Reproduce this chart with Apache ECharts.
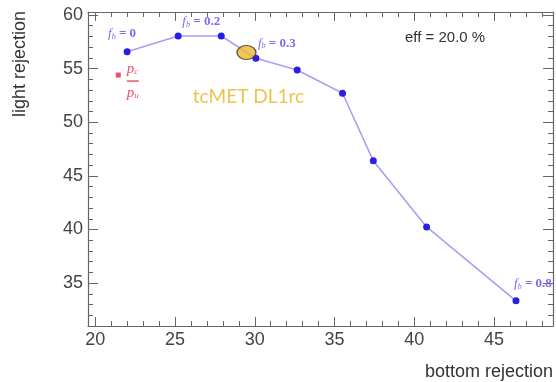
<!DOCTYPE html>
<html>
<head>
<meta charset="utf-8">
<script src="https://cdn.jsdelivr.net/npm/echarts@6/dist/echarts.min.js"></script>
<style>html,body{margin:0;padding:0;background:#fff}#c{width:556px;height:382px}</style>
</head>
<body>
<div id="c"></div>
<script>
// ---- data ----
var bottomRejection = [22.0, 25.2, 27.9, 30.07, 32.66, 35.5, 37.43, 40.77, 46.37];
var lightRejection  = [56.58, 58.04, 58.04, 55.96, 54.87, 52.7, 46.4, 40.24, 33.35];
var fbLabels = {0: '0', 2: '0.2', 3: '0.3', 8: '0.8'};
var ratioMarker = [21.45, 54.4];
var tcMetPoint = [29.48, 56.5];
var xMajorTicks = [20, 25, 30, 35, 40, 45];
var xMinorTicks = [20,21,22,23,24,25,26,27,28,29,30,31,32,33,34,35,36,37,38,39,40,41,42,43,44,45,46,47,48];
var yMajorTicks = [35, 40, 45, 50, 55, 60];
var yMinorTicks = [31,32,33,34,35,36,37,38,39,40,41,42,43,44,45,46,47,48,49,50,51,52,53,54,55,56,57,58,59,60];
var xRange = [19.55, 48.69];
var yRange = [31.0, 60.28];

var axisCol = '#666';
var labCol = '#444';
var fbCol = '#7b6cf0';

function xAx(pos, ticks, len, labels, line) {
  return {
    type: 'value', position: pos, min: xRange[0], max: xRange[1],
    axisLine: {show: line, lineStyle: {color: axisCol, width: 1.2}},
    axisTick: {show: true, inside: true, length: len, customValues: ticks, lineStyle: {color: axisCol, width: 1}},
    axisLabel: labels ? {show: true, customValues: xMajorTicks, color: labCol, fontSize: 18, fontFamily: 'Liberation Sans', margin: 5} : {show: false},
    splitLine: {show: false}
  };
}
function yAx(pos, ticks, len, labels, line) {
  return {
    type: 'value', position: pos, min: yRange[0], max: yRange[1],
    axisLine: {show: line, lineStyle: {color: axisCol, width: 1.2}},
    axisTick: {show: true, inside: true, length: len, customValues: ticks, lineStyle: {color: axisCol, width: 1}},
    axisLabel: labels ? {show: true, customValues: yMajorTicks, color: labCol, fontSize: 18, fontFamily: 'Liberation Sans', margin: 5} : {show: false},
    splitLine: {show: false}
  };
}

var fbRich = {
  f: {fontFamily: 'Liberation Serif', fontStyle: 'italic', fontSize: 13, color: fbCol},
  b: {fontFamily: 'Liberation Serif', fontStyle: 'italic', fontSize: 8, color: fbCol, verticalAlign: 'bottom', padding: [6, 0, 0, 0]},
  t: {fontFamily: 'Liberation Serif', fontSize: 13, color: fbCol, fontWeight: 'bold'}
};
var fbOffsets = {0: [-5, -18], 2: [-20, -14], 3: [21, -15], 8: [17, -17]};

var lineData = bottomRejection.map(function (x, i) {
  var item = {value: [x, lightRejection[i]]};
  if (fbLabels[i] !== undefined) {
    item.label = {
      show: true, position: 'inside', offset: fbOffsets[i],
      formatter: '{f|f}{b|b}{t| = ' + fbLabels[i] + '}', rich: fbRich
    };
  }
  return item;
});

var chart = echarts.init(document.getElementById('c'), null, {renderer: 'canvas'});
chart.setOption({
  animation: false,
  backgroundColor: '#fff',
  grid: {left: 88, right: 3, top: 12, bottom: 56},
  xAxis: [
    xAx('bottom', xMajorTicks, 9, true, true),
    xAx('bottom', xMinorTicks, 5, false, false),
    xAx('top', xMajorTicks, 9, false, true),
    xAx('top', xMinorTicks, 5, false, false)
  ],
  yAxis: [
    yAx('left', yMajorTicks, 10, true, true),
    yAx('left', yMinorTicks, 5, false, false),
    yAx('right', yMajorTicks, 10, false, true),
    yAx('right', yMinorTicks, 5, false, false)
  ],
  series: [
    {
      type: 'line', xAxisIndex: 0, yAxisIndex: 0, data: lineData,
      symbol: 'circle', symbolSize: 7,
      lineStyle: {color: '#a99ff2', width: 1.6},
      itemStyle: {color: '#2a1ee6'},
      z: 3
    },
    {
      type: 'scatter', xAxisIndex: 0, yAxisIndex: 0, data: [tcMetPoint],
      symbol: 'circle', symbolSize: [19, 14],
      itemStyle: {color: '#efb72f', borderColor: '#3a3322', borderWidth: 1.2},
      label: {
        show: true, position: 'inside', offset: [2, 44],
        formatter: 'tcMET DL1rc', color: '#e6b422', fontSize: 19, fontFamily: 'Lato'
      },
      z: 4
    },
    {
      type: 'scatter', xAxisIndex: 0, yAxisIndex: 0, data: [ratioMarker],
      symbol: 'rect', symbolSize: 5,
      itemStyle: {color: '#e8283c'},
      label: {
        show: true, position: 'right', distance: 6, offset: [0, 6],
        formatter: '{p|p}{s|c}\n{hr|}\n{p|p}{s|u}',
        rich: {
          p: {fontFamily: 'Liberation Serif', fontStyle: 'italic', fontSize: 15, color: '#e8283c', lineHeight: 15},
          s: {fontFamily: 'Liberation Serif', fontStyle: 'italic', fontSize: 9, color: '#e8283c', verticalAlign: 'bottom', padding: [6, 0, 0, 0]},
          hr: {borderColor: '#e8283c', width: '100%', borderWidth: 0.9, height: 0, lineHeight: 9}
        }
      },
      z: 3
    }
  ],
  graphic: [
    {type: 'text', left: 405, top: 30, style: {text: 'eff = 20.0 %', font: '15px "Liberation Sans"', fill: '#333'}},
    {type: 'text', x: 20, y: 64, rotation: Math.PI / 2, style: {text: 'light rejection', font: '18px "Liberation Sans"', fill: '#333', align: 'center', verticalAlign: 'middle'}},
    {type: 'text', x: 553, y: 372, style: {text: 'bottom rejection', font: '18px "Liberation Sans"', fill: '#333', align: 'right', verticalAlign: 'middle'}}
  ]
});
</script>
</body>
</html>
